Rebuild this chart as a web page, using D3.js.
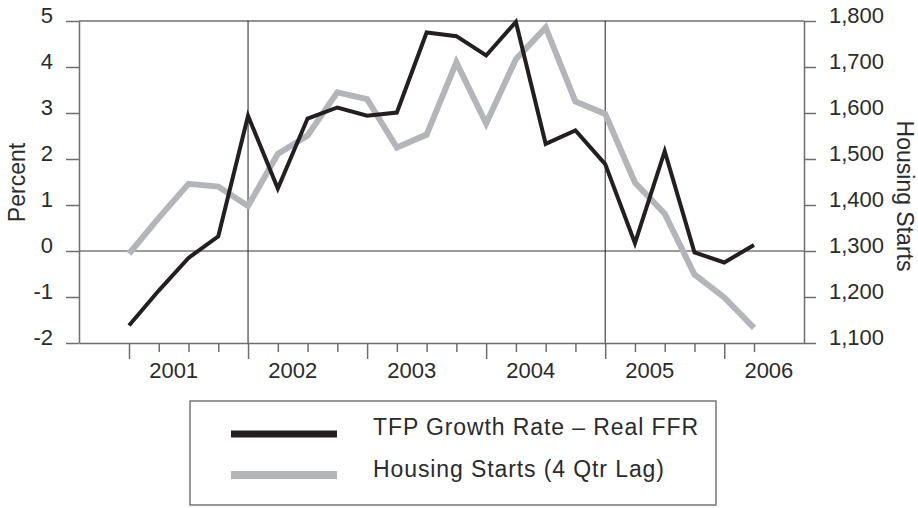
<!DOCTYPE html>
<html>
<head>
<meta charset="utf-8">
<script src="https://cdn.jsdelivr.net/npm/d3@7"></script>
<style>
  html, body { margin: 0; padding: 0; background: #fff; }
  svg { display: block; font-family: "Liberation Sans", Arial, sans-serif; }
</style>
</head>
<body>
<svg id="chart"></svg>
<script>
// Data (quarterly, 2001Q1 - 2006Q2)
const years = [2001, 2002, 2003, 2004, 2005, 2006];
const quarters = d3.range(22); // index 0 = 2001Q1
const tfpMinusFfr = [-1.62, -0.86, -0.15, 0.32, 2.94, 1.36, 2.88, 3.12, 2.94, 3.01, 4.75,
  4.67, 4.25, 4.98, 2.33, 2.62, 1.89, 0.17, 2.17, -0.03, -0.25, 0.13];
const housingStarts = [1294, 1372, 1446, 1440, 1398, 1511, 1551, 1645, 1630, 1525, 1553,
  1710, 1577, 1717, 1786, 1625, 1598, 1449, 1381, 1249, 1199, 1133];
const leftTicks = [-2, -1, 0, 1, 2, 3, 4, 5];
const rightTicks = [1100, 1200, 1300, 1400, 1500, 1600, 1700, 1800];
const gridQuarters = [4, 16]; // vertical rules at 2002Q1 and 2005Q1
const legendItems = ["TFP Growth Rate \u2013 Real FFR", "Housing Starts (4 Qtr Lag)"];

// Configuration
const CONFIG = {
  WIDTH: 918,
  HEIGHT: 508,
  PLOT: { left: 79, right: 804, top: 21, bottom: 343 },
  X_PAD: 1.68,
  COLORS: { black: "#231f20", gray: "#b3b5b8", axis: "#6d6e71", text: "#2b2b2b" },
  FONT: 22
};

function draw() {
  const P = CONFIG.PLOT;
  const svg = d3.select("#chart")
    .attr("width", CONFIG.WIDTH)
    .attr("height", CONFIG.HEIGHT);

  const x = d3.scaleLinear()
    .domain([-CONFIG.X_PAD, quarters.length - 1 + CONFIG.X_PAD])
    .range([P.left, P.right]);
  const yL = d3.scaleLinear().domain([-2, 5]).range([P.bottom, P.top]);
  const yR = d3.scaleLinear().domain([1100, 1800]).range([P.bottom, P.top]);

  // Frame: top rule
  svg.append("line")
    .attr("x1", P.left).attr("x2", P.right)
    .attr("y1", P.top).attr("y2", P.top)
    .attr("stroke", CONFIG.COLORS.axis).attr("stroke-width", 1.5);

  // Zero line
  svg.append("line")
    .attr("x1", P.left).attr("x2", P.right)
    .attr("y1", yL(0)).attr("y2", yL(0))
    .attr("stroke", "#7a7a7a").attr("stroke-width", 1.5);

  // Vertical rules
  svg.selectAll(".vrule").data(gridQuarters).enter().append("line")
    .attr("class", "vrule")
    .attr("x1", d => x(d)).attr("x2", d => x(d))
    .attr("y1", P.top).attr("y2", P.bottom)
    .attr("stroke", CONFIG.COLORS.black).attr("stroke-width", 1);

  // Left axis (plain hyphen for negatives, as in the print)
  const gL = svg.append("g")
    .attr("transform", `translate(${P.left},0)`)
    .call(d3.axisLeft(yL).tickValues(leftTicks).tickSize(13).tickPadding(13)
      .tickSizeOuter(0).tickFormat(d => String(d)));
  styleAxis(gL);
  gL.selectAll("text").attr("text-anchor", "end").attr("y", -6);

  // Right axis
  const gR = svg.append("g")
    .attr("transform", `translate(${P.right},0)`)
    .call(d3.axisRight(yR).tickValues(rightTicks).tickSize(12).tickPadding(13)
      .tickSizeOuter(0).tickFormat(d3.format(",")));
  styleAxis(gR);
  gR.selectAll("text").attr("y", -6);

  // Bottom axis: quarter ticks, long ticks at year start
  const gB = svg.append("g")
    .attr("transform", `translate(0,${P.bottom})`)
    .call(d3.axisBottom(x).tickValues(quarters).tickSizeOuter(0).tickFormat(""));
  styleAxis(gB);
  gB.selectAll(".tick line").attr("y2", d => d % 4 === 0 ? 16 : 9);

  gB.selectAll(".year").data(years).enter().append("text")
    .attr("class", "year")
    .attr("x", (d, i) => x(i * 4 + 1.5))
    .attr("y", 35)
    .attr("text-anchor", "middle")
    .attr("fill", CONFIG.COLORS.text)
    .style("font-size", CONFIG.FONT + "px")
    .text(d => d);

  // Axis titles
  svg.append("text")
    .attr("transform", `translate(25,${(P.top + P.bottom) / 2 + 0.5}) rotate(-90)`)
    .attr("text-anchor", "middle")
    .attr("fill", CONFIG.COLORS.text)
    .style("font-size", "23px")
    .text("Percent");

  svg.append("text")
    .attr("transform", `translate(897,196) rotate(90)`)
    .attr("text-anchor", "middle")
    .attr("fill", CONFIG.COLORS.text)
    .style("font-size", "23px")
    .text("Housing Starts");

  // Lines
  const lineL = d3.line().x((d, i) => x(i)).y(d => yL(d));
  const lineR = d3.line().x((d, i) => x(i)).y(d => yR(d));

  svg.append("path")
    .datum(housingStarts)
    .attr("d", lineR)
    .attr("fill", "none")
    .attr("stroke", CONFIG.COLORS.gray)
    .attr("stroke-width", 6)
    .attr("stroke-linejoin", "miter");

  svg.append("path")
    .datum(tfpMinusFfr)
    .attr("d", lineL)
    .attr("fill", "none")
    .attr("stroke", CONFIG.COLORS.black)
    .attr("stroke-width", 4)
    .attr("stroke-linejoin", "miter");

  // Legend
  const legend = svg.append("g").attr("transform", "translate(190,401)");
  legend.append("rect")
    .attr("width", 526).attr("height", 104)
    .attr("fill", "#fff")
    .attr("stroke", "#777").attr("stroke-width", 1.5);

  const swatch = [
    { color: CONFIG.COLORS.black, width: 7, y: 33 },
    { color: CONFIG.COLORS.gray, width: 8, y: 74 }
  ];
  legendItems.forEach((label, i) => {
    legend.append("line")
      .attr("x1", 41).attr("x2", 147)
      .attr("y1", swatch[i].y).attr("y2", swatch[i].y)
      .attr("stroke", swatch[i].color).attr("stroke-width", swatch[i].width);
    legend.append("text")
      .attr("x", 183).attr("y", 34 + i * 41.5)
      .attr("fill", CONFIG.COLORS.text)
      .style("font-size", "23px")
      .style("letter-spacing", "0.9px")
      .text(label);
  });
}

function styleAxis(g) {
  g.select(".domain").attr("stroke", CONFIG.COLORS.axis).attr("stroke-width", 1.5);
  g.selectAll(".tick line").attr("stroke", CONFIG.COLORS.axis).attr("stroke-width", 1.5);
  g.selectAll(".tick text")
    .attr("fill", CONFIG.COLORS.text)
    .style("font-size", CONFIG.FONT + "px")
    .style("font-family", "\"Liberation Sans\", Arial, sans-serif");
}

draw();
</script>
</body>
</html>
